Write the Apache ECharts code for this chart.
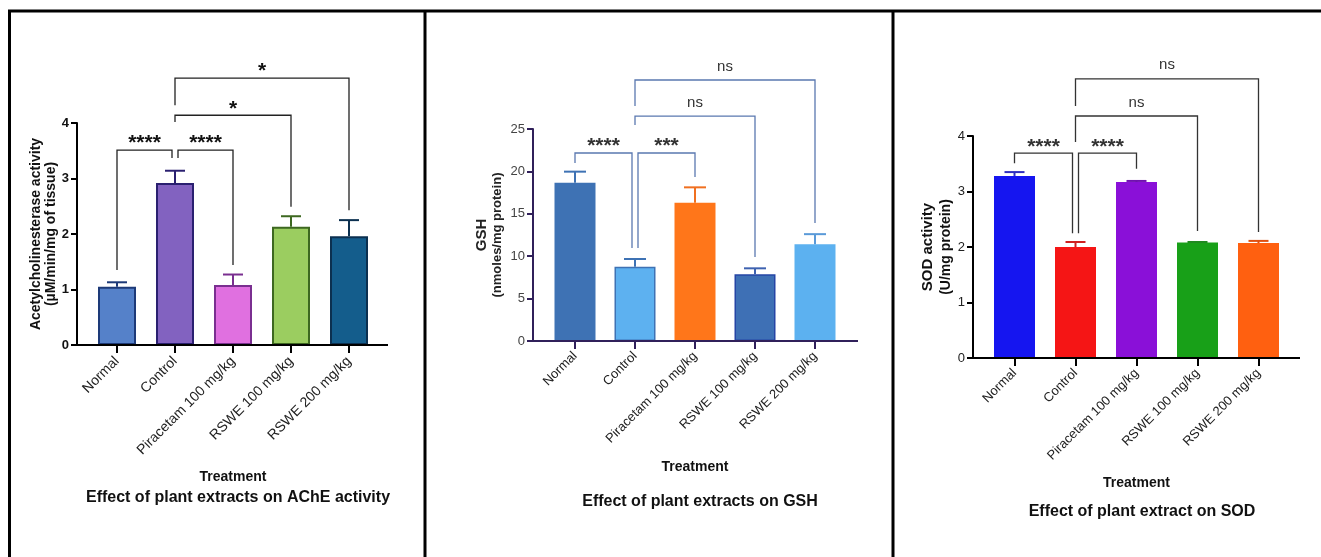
<!DOCTYPE html>
<html><head><meta charset="utf-8">
<script src="https://cdn.jsdelivr.net/npm/echarts@6/dist/echarts.min.js"></script>
<style>html,body{margin:0;padding:0;background:#fff}#c{width:1321px;height:557px}</style>
</head><body><div id="c"></div>
<script>
// ---------- DATA ----------
const categories = ['Normal', 'Control', 'Piracetam 100 mg/kg', 'RSWE 100 mg/kg', 'RSWE 200 mg/kg'];

const acheMean = [1.05, 2.92, 1.08, 2.13, 1.96];
const acheSem  = [0.08, 0.22, 0.19, 0.19, 0.29];
const acheTicks = [0, 1, 2, 3, 4];

const gshMean = [18.67, 8.77, 16.31, 7.86, 11.4];
const gshSem  = [1.30, 0.90, 1.81, 0.71, 1.20];
const gshTicks = [0, 5, 10, 15, 20, 25];

const sodMean = [3.28, 2.00, 3.17, 2.08, 2.07];
const sodSem  = [0.07, 0.09, 0.02, 0.01, 0.04];
const sodTicks = [0, 1, 2, 3, 4];

// significance brackets: [fromIndex, toIndex, level, fromEnd, toEnd]
const acheBrackets = [[0, 1, 3.51, 1.35, 3.37], [1, 2, 3.51, 3.37, 1.44], [1, 3, 4.14, 4.02, 2.49], [1, 4, 4.81, 4.32, 2.43]];
const acheSig = ['****', '****', '*', '*'];
const gshBrackets = [[0, 1, 22.17, 20.99, 10.97], [1, 2, 22.17, 10.97, 19.34], [1, 3, 26.53, 25.47, 9.9], [1, 4, 30.78, 27.71, 13.92]];
const gshSig = ['****', '***', 'ns', 'ns'];
const sodBrackets = [[0, 1, 3.69, 3.51, 2.25], [1, 2, 3.69, 2.25, 3.41], [1, 3, 4.36, 3.89, 2.29], [1, 4, 5.03, 4.54, 2.27]];
const sodSig = ['****', '****', 'ns', 'ns'];

const titles = ['Effect of plant extracts on AChE activity', 'Effect of plant extracts on GSH', 'Effect of plant extract on SOD'];
const xName = 'Treatment';

// ---------- STYLE ----------
const FONT = '"Liberation Sans", Arial, sans-serif';
const panels = [
  {
    mean: acheMean, sem: acheSem, ticks: acheTicks, brackets: acheBrackets, sig: acheSig,
    grid: {left: 88, top: 123, width: 290, height: 222}, yOffset: 11, axisEnd: 388,
    barWidth: 38, axisColor: '#000', bracketColor: '#222',
    fill: ['#5581c9', '#8262c0', '#e070e0', '#9bcd60', '#145d8c'],
    border: ['#1d3a78', '#2a2070', '#7a2f90', '#3d6820', '#0c3050'],
    errColor: ['#1d3a78', '#2a2070', '#7a2f90', '#3d6820', '#0c3050'],
    borderWidth: 2, capW: 20,
    yName: '{a|Acetylcholinesterase activity}\n{a|(µM/min/mg of tissue)}', yNameGap: 17,
    yRich: {a: {fontSize: 14, fontWeight: 'bold', color: '#111', lineHeight: 15, fontFamily: FONT}},
    yLabel: {fontSize: 13, fontWeight: 'bold', color: '#111'},
    xLabelSize: 14, xLabelMargin: 14, xNameGap: 125, titleX: 233, titleY: 485,
    sigColor: '#111'
  },
  {
    mean: gshMean, sem: gshSem, ticks: gshTicks, brackets: gshBrackets, sig: gshSig,
    grid: {left: 545, top: 129, width: 300, height: 212}, yOffset: 12, axisEnd: 858,
    barWidth: 41, axisColor: '#30205a', bracketColor: '#5a78b0',
    fill: ['#3e72b4', '#5db1f0', '#ff761a', '#3e70b5', '#5cb1f0'],
    border: ['#3e72b4', '#3e72b4', '#ff761a', '#2545a5', '#5cb1f0'],
    errColor: ['#3e72b4', '#3e72b4', '#f07020', '#3e62b0', '#5a9ad8'],
    borderWidth: 1.5, capW: 22,
    yName: '{g|GSH}\n{b|(nmoles/mg protein)}', yNameGap: 28,
    yRich: {g: {fontSize: 15, fontWeight: 'bold', color: '#222', lineHeight: 17, fontFamily: FONT},
            b: {fontSize: 13, fontWeight: 'bold', color: '#222', lineHeight: 15, fontFamily: FONT}},
    yLabel: {fontSize: 13, fontWeight: 'normal', color: '#444'},
    xLabelSize: 13, xLabelMargin: 13, xNameGap: 119, titleX: 695, titleY: 489,
    sigColor: '#333'
  },
  {
    mean: sodMean, sem: sodSem, ticks: sodTicks, brackets: sodBrackets, sig: sodSig,
    grid: {left: 984, top: 136, width: 305, height: 222}, yOffset: 11, axisEnd: 1300,
    barWidth: 41, axisColor: '#000', bracketColor: '#333',
    fill: ['#1515f0', '#f51515', '#8a10d8', '#18a018', '#ff6010'],
    border: ['#1515f0', '#f51515', '#8a10d8', '#18a018', '#ff6010'],
    errColor: ['#3030c0', '#d02020', '#7010b0', '#208a20', '#e05010'],
    borderWidth: 0, capW: 20,
    yName: '{a|SOD activity}\n{b|(U/mg protein)}', yNameGap: 18,
    yRich: {a: {fontSize: 15, fontWeight: 'bold', color: '#111', lineHeight: 18, fontFamily: FONT},
            b: {fontSize: 14, fontWeight: 'bold', color: '#111', lineHeight: 18, fontFamily: FONT}},
    yLabel: {fontSize: 13, fontWeight: 'normal', color: '#222'},
    xLabelSize: 13, xLabelMargin: 13, xNameGap: 118, titleX: 1137, titleY: 499,
    sigColor: '#333'
  }
];

const option = {
  animation: false,
  backgroundColor: '#fff',
  textStyle: {fontFamily: FONT},
  title: [], grid: [], xAxis: [], yAxis: [], series: [], graphic: []
};

panels.forEach((p, k) => {
  const step = p.ticks[1] - p.ticks[0];
  option.title.push({
    text: titles[k], left: p.titleX, top: p.titleY, textAlign: 'center',
    textStyle: {fontSize: 16, fontWeight: 'bold', color: '#111', fontFamily: FONT}
  });
  option.grid.push(Object.assign({containLabel: false}, p.grid));
  option.xAxis.push({
    type: 'category', gridIndex: k, data: categories,
    axisLine: {show: false},
    axisTick: {show: true, alignWithLabel: true, length: 8, lineStyle: {color: p.axisColor, width: 2}},
    axisLabel: {rotate: 45, interval: 0, fontSize: p.xLabelSize, color: '#222', margin: p.xLabelMargin, fontFamily: FONT},
    name: xName, nameLocation: 'middle', nameGap: p.xNameGap,
    nameTextStyle: {fontSize: 14, fontWeight: 'bold', color: '#111', fontFamily: FONT}
  });
  option.yAxis.push({
    type: 'value', gridIndex: k, min: p.ticks[0], max: p.ticks[p.ticks.length - 1], interval: step,
    offset: p.yOffset,
    axisLine: {show: true, lineStyle: {color: p.axisColor, width: 2}},
    axisTick: {show: true, length: 6, lineStyle: {color: p.axisColor, width: 2}},
    splitLine: {show: false},
    axisLabel: Object.assign({margin: 8, fontFamily: FONT}, p.yLabel),
    name: p.yName, nameLocation: 'middle', nameRotate: 90, nameGap: p.yNameGap,
    nameTextStyle: {rich: p.yRich, align: 'center'}
  });
  option.series.push({
    type: 'bar', xAxisIndex: k, yAxisIndex: k, barWidth: p.barWidth, z: 2,
    data: p.mean.map((v, i) => ({
      value: v,
      itemStyle: {color: p.fill[i], borderColor: p.border[i], borderWidth: p.borderWidth}
    }))
  });
  option.series.push({
    type: 'custom', xAxisIndex: k, yAxisIndex: k, z: 3, clip: false,
    encode: {x: 0, y: 1},
    data: p.mean.map((v, i) => [i, v, p.sem[i]]),
    renderItem: (params, api) => {
      const i = api.value(0), m = api.value(1), s = api.value(2);
      const a = api.coord([i, m]), b = api.coord([i, m + s]);
      const c = p.errColor[params.dataIndex];
      return {type: 'group', children: [
        {type: 'line', shape: {x1: a[0], y1: a[1], x2: b[0], y2: b[1]}, style: {stroke: c, lineWidth: 2}},
        {type: 'line', shape: {x1: b[0] - p.capW / 2, y1: b[1], x2: b[0] + p.capW / 2, y2: b[1]}, style: {stroke: c, lineWidth: 2}}
      ]};
    }
  });
  option.series.push({
    type: 'custom', xAxisIndex: k, yAxisIndex: k, z: 4, clip: false,
    encode: {x: 0, y: 2},
    data: p.brackets,
    renderItem: (params, api) => {
      const from = api.value(0), to = api.value(1), lvl = api.value(2), fe = api.value(3), te = api.value(4);
      const top1 = api.coord([from, lvl]), top2 = api.coord([to, lvl]);
      const e1 = api.coord([from, fe]), e2 = api.coord([to, te]);
      let fx = top1[0], tx = top2[0];
      if (to - from === 1) { if (from === 1) fx += 3; if (to === 1) tx -= 3; }
      const lab = p.sig[params.dataIndex];
      const isNs = lab === 'ns';
      return {type: 'group', children: [
        {type: 'polyline', shape: {points: [[fx, e1[1]], [fx, top1[1]], [tx, top2[1]], [tx, e2[1]]]},
         style: {stroke: p.bracketColor, lineWidth: 1.3, fill: null}},
        {type: 'text', x: (fx + tx) / 2, y: top1[1] + (isNs ? -6 : 4),
         style: {text: lab, textAlign: 'center', textVerticalAlign: 'bottom', fill: p.sigColor,
                 font: (isNs ? 'normal 15px ' : 'bold 21px ') + FONT}}
      ]};
    }
  });
  // full-length x axis line
  const yBase = p.grid.top + p.grid.height;
  option.graphic.push({type: 'line', z: 10,
    shape: {x1: p.grid.left - p.yOffset - 1, y1: yBase, x2: p.axisEnd, y2: yBase},
    style: {stroke: p.axisColor, lineWidth: 2}});
});

// panel frame lines
option.graphic.push(
  {type: 'line', shape: {x1: 8, y1: 11, x2: 1321, y2: 11}, style: {stroke: '#000', lineWidth: 3}},
  {type: 'line', shape: {x1: 9.5, y1: 10, x2: 9.5, y2: 557}, style: {stroke: '#000', lineWidth: 3}},
  {type: 'line', shape: {x1: 425, y1: 10, x2: 425, y2: 557}, style: {stroke: '#000', lineWidth: 3}},
  {type: 'line', shape: {x1: 893, y1: 10, x2: 893, y2: 557}, style: {stroke: '#000', lineWidth: 3}}
);

const chart = echarts.init(document.getElementById('c'), null, {renderer: 'canvas'});
chart.setOption(option);
</script>
</body></html>
